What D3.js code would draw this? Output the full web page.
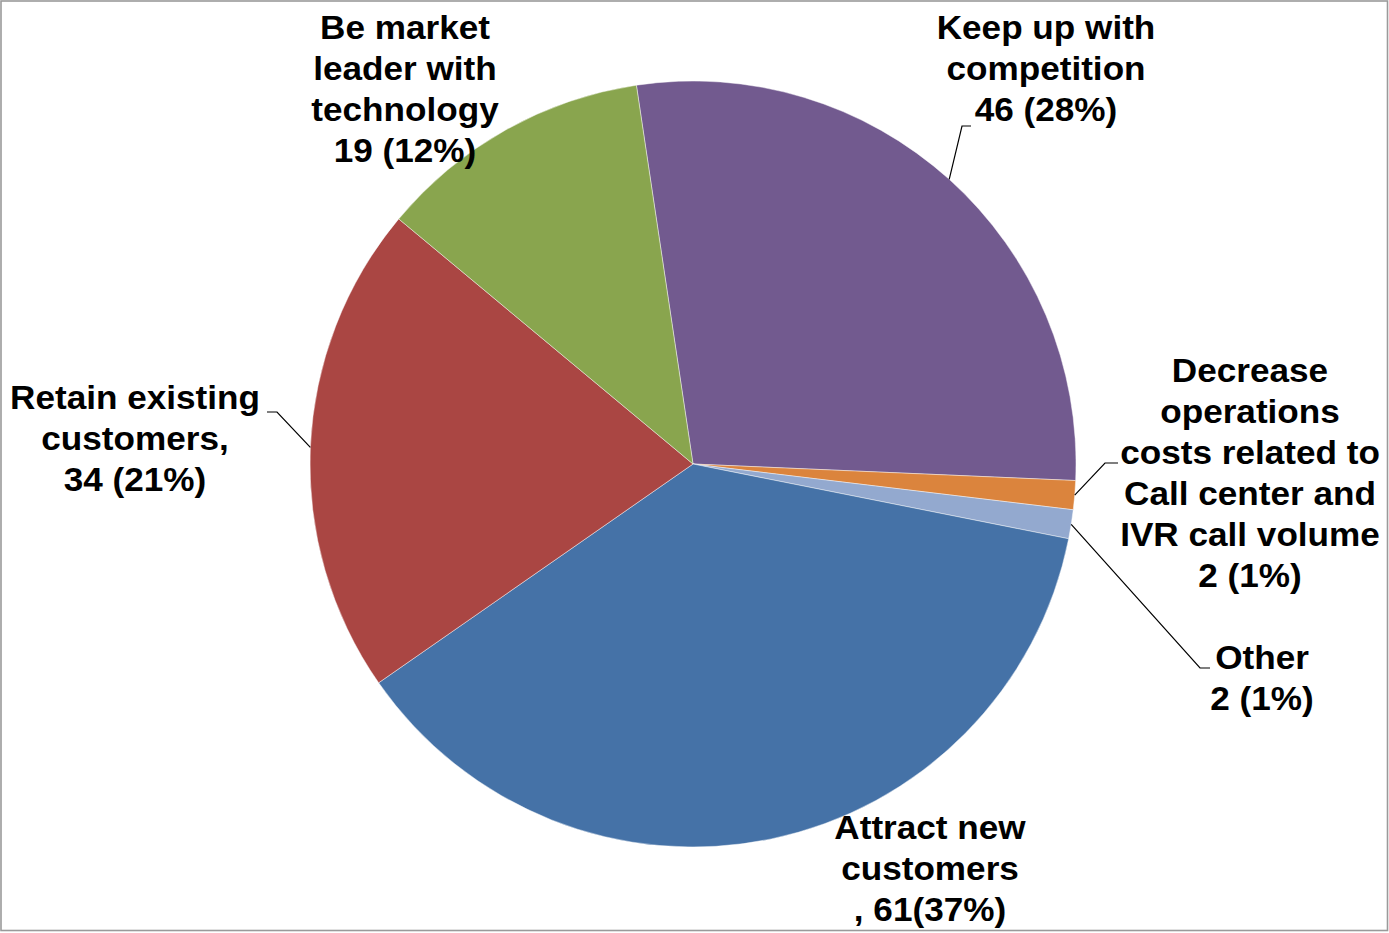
<!DOCTYPE html>
<html>
<head>
<meta charset="utf-8">
<script src="https://cdn.jsdelivr.net/npm/d3@7/dist/d3.min.js"></script>
<style>
  html, body { margin: 0; padding: 0; background: #fff; }
  svg { display: block; }
  text { font-family: "Liberation Sans", Arial, sans-serif; font-weight: bold; fill: #000; }
</style>
</head>
<body>
<svg id="chart" width="1389" height="933"></svg>
<script>
// Reasons for investing, number of responses per reason
const categories = [
  "Keep up with competition",
  "Decrease operations costs related to Call center and IVR call volume",
  "Other",
  "Attract new customers",
  "Retain existing customers",
  "Be market leader with technology"
];
const values = [46, 2, 2, 61, 34, 19];
const colors = ["#725a8f", "#db843d", "#93a9cf", "#4572a7", "#aa4643", "#89a54e"];

// Label text: wrapped name lines, plus the count line built from the value
const nameLines = [
  ["Keep up with", "competition"],
  ["Decrease", "operations", "costs related to", "Call center and", "IVR call volume"],
  ["Other"],
  ["Attract new", "customers"],
  ["Retain existing", "customers,"],
  ["Be market", "leader with", "technology"]
];
const countFormats = [
  (v, p) => `${v} (${p}%)`,
  (v, p) => `${v} (${p}%)`,
  (v, p) => `${v} (${p}%)`,
  (v, p) => `, ${v}(${p}%)`,
  (v, p) => `${v} (${p}%)`,
  (v, p) => `${v} (${p}%)`
];

const W = 1389, H = 933;
const cx = 693, cy = 464, R = 383;
const startAngle = -8.5 * Math.PI / 180;
const fontSize = 33, lineH = 41, stretchX = 1.065;

// Label placement: centre x, first baseline y, optional leader elbow (ex, ey) and stub end (sx)
const labelLayout = [
  { x: 1046, y: 39,  leader: { ex: 962,  ey: 126, sx: 971 } },
  { x: 1250, y: 382, leader: { ex: 1105, ey: 463, sx: 1118 } },
  { x: 1262, y: 669, leader: { ex: 1200, ey: 668, sx: 1210 } },
  { x: 930,  y: 839, leader: null },
  { x: 135,  y: 409, leader: { ex: 277,  ey: 412, sx: 267 } },
  { x: 405,  y: 39,  leader: null }
];

const svg = d3.select("#chart");

svg.append("rect")
  .attr("x", 1).attr("y", 1)
  .attr("width", W - 2.5).attr("height", H - 3.5)
  .attr("fill", "#fff")
  .attr("stroke", "#9a9a9a")
  .attr("stroke-width", 1.6);

const total = d3.sum(values);
const data = categories.map((c, i) => ({ name: c, value: values[i], i }));

const pie = d3.pie()
  .value(d => d.value)
  .sort(null)
  .startAngle(startAngle)
  .endAngle(startAngle + 2 * Math.PI);

const arc = d3.arc().innerRadius(0).outerRadius(R);
const arcs = pie(data);

const g = svg.append("g").attr("transform", `translate(${cx},${cy})`);

g.selectAll("path.slice")
  .data(arcs)
  .join("path")
  .attr("class", "slice")
  .attr("d", arc)
  .attr("fill", d => colors[d.data.i])
  .attr("stroke", "rgba(255,255,255,0.55)")
  .attr("stroke-width", 0.8);

// Leader lines from slice edge to label
arcs.forEach(a => {
  const L = labelLayout[a.data.i].leader;
  if (!L) return;
  const mid = (a.startAngle + a.endAngle) / 2;
  const px = cx + Math.sin(mid) * R;
  const py = cy - Math.cos(mid) * R;
  svg.append("polyline")
    .attr("points", `${px},${py} ${L.ex},${L.ey} ${L.sx},${L.ey}`)
    .attr("fill", "none")
    .attr("stroke", "#000")
    .attr("stroke-width", 1.2);
});

// Labels
arcs.forEach(a => {
  const i = a.data.i;
  const pct = Math.round(a.data.value / total * 100);
  const lines = nameLines[i].concat([countFormats[i](a.data.value, pct)]);
  const pos = labelLayout[i];
  const t = svg.append("text")
    .attr("transform", `translate(${pos.x},${pos.y}) scale(${stretchX},1)`)
    .attr("text-anchor", "middle")
    .attr("font-size", fontSize);
  lines.forEach((ln, k) => {
    t.append("tspan").attr("x", 0).attr("y", k * lineH).text(ln);
  });
});
</script>
</body>
</html>
